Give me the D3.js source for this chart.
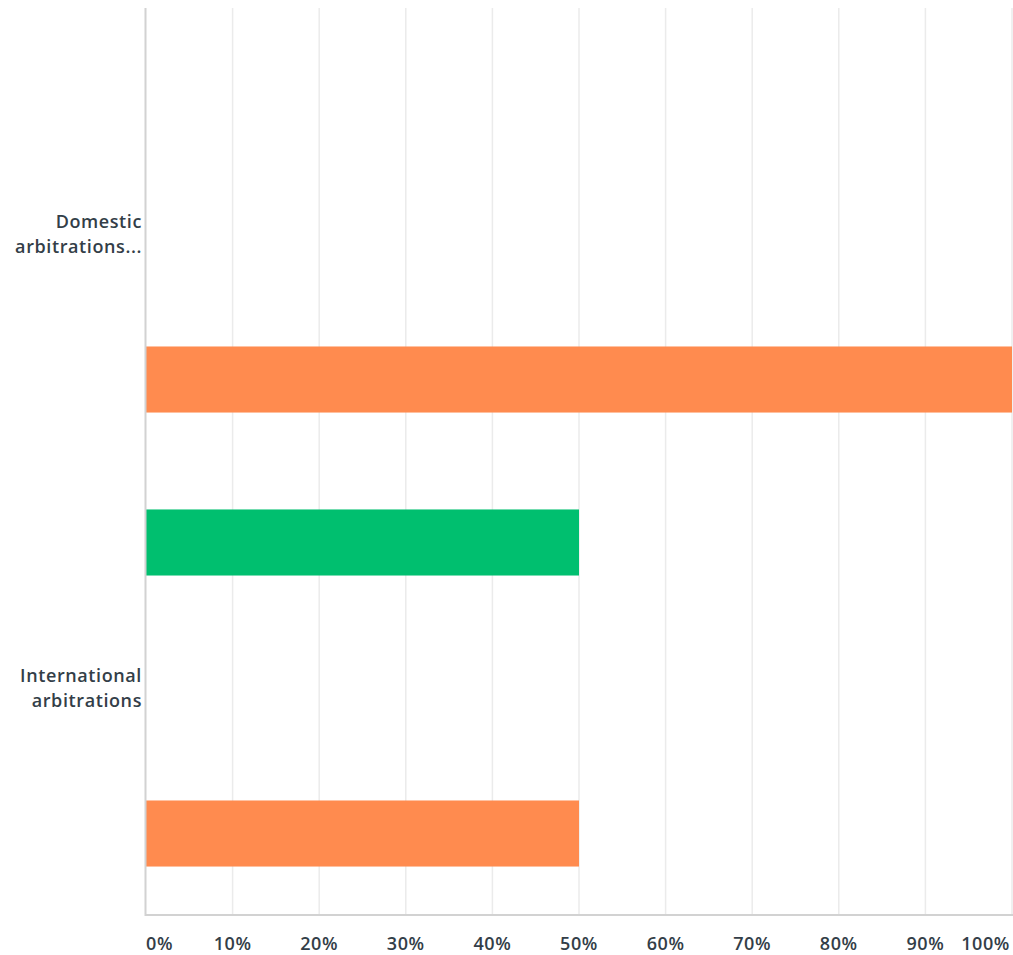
<!DOCTYPE html>
<html>
<head>
<meta charset="utf-8">
<script src="https://cdn.jsdelivr.net/npm/d3@7"></script>
<style>
  body { margin: 0; background: #fff; overflow: hidden; }
  text { font-family: "Open Sans", sans-serif; fill: #333e48; letter-spacing: 0.6px; }
</style>
</head>
<body>
<div class="div-chart"></div>
<script>
// categories and series
const categories = ["Domestic arbitrations...", "International arbitrations"];
const categoryLines = [["Domestic", "arbitrations..."], ["International", "arbitrations"]];
const seriesNames = ["Series 1", "Series 2", "Series 3"];
const seriesColors = ["#00bf6f", "#6bc8cd", "#ff8b4f"];
const domesticValues = [0, 0, 100];
const internationalValues = [50, 0, 50];
const tickValues = [0, 10, 20, 30, 40, 50, 60, 70, 80, 90, 100];

const valuesByCategory = [domesticValues, internationalValues];

const width = 1013,
  height = 955;

const svg = d3
  .select(".div-chart")
  .append("svg")
  .attr("width", width)
  .attr("height", height)
  .style("display", "block");

const x = d3.scaleLinear().domain([0, 100]).range([146, 1012]);

const y0 = d3.scaleBand().domain(categories).range([7, 915]);

const y1 = d3
  .scaleBand()
  .domain(seriesNames)
  .range([0, y0.bandwidth()])
  .paddingInner(0.546)
  .paddingOuter(0.333);

// gridlines
svg
  .append("g")
  .selectAll("line")
  .data(tickValues.filter((d) => d > 0))
  .join("line")
  .attr("x1", (d) => x(d))
  .attr("x2", (d) => x(d))
  .attr("y1", 8)
  .attr("y2", 915)
  .attr("stroke", "#ebebeb")
  .attr("stroke-width", 1.5);

// bars
const groups = svg
  .append("g")
  .selectAll("g")
  .data(categories)
  .join("g")
  .attr("transform", (d) => `translate(0,${y0(d)})`);

groups
  .selectAll("rect")
  .data((d, i) =>
    seriesNames.map((s, j) => ({ series: s, value: valuesByCategory[i][j], color: seriesColors[j] }))
  )
  .join("rect")
  .attr("x", x(0))
  .attr("y", (d) => y1(d.series))
  .attr("width", (d) => x(d.value) - x(0))
  .attr("height", y1.bandwidth())
  .attr("fill", (d) => d.color);

// axis lines
svg
  .append("line")
  .attr("x1", 145.5)
  .attr("x2", 145.5)
  .attr("y1", 8)
  .attr("y2", 916)
  .attr("stroke", "#d2d2d2")
  .attr("stroke-width", 2);

svg
  .append("line")
  .attr("x1", 145)
  .attr("x2", 1013)
  .attr("y1", 915)
  .attr("y2", 915)
  .attr("stroke", "#d2d2d2")
  .attr("stroke-width", 2);

// category labels
const labels = svg
  .append("g")
  .selectAll("text")
  .data(categories)
  .join("text")
  .attr("text-anchor", "end")
  .attr("font-size", 18)
  .attr("font-weight", 600)
  .attr("y", (d) => y0(d) + y0.bandwidth() / 2 - 6);

labels
  .selectAll("tspan")
  .data((d, i) => categoryLines[i])
  .join("tspan")
  .attr("x", 142)
  .attr("dy", (d, i) => (i === 0 ? 0 : 25))
  .text((d) => d);

// tick labels
svg
  .append("g")
  .selectAll("text")
  .data(tickValues)
  .join("text")
  .attr("x", (d) => (d === 0 ? 146 : d === 100 ? 1010 : x(d)))
  .attr("y", 950)
  .attr("text-anchor", (d) => (d === 0 ? "start" : d === 100 ? "end" : "middle"))
  .attr("font-size", 18)
  .attr("font-weight", 600)
  .text((d) => d + "%");
</script>
</body>
</html>
